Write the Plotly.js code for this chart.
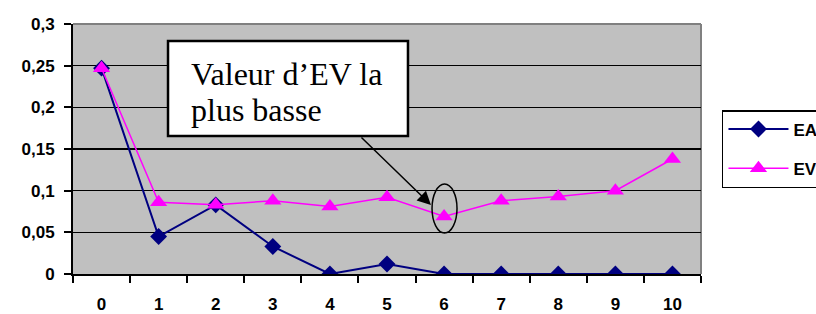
<!DOCTYPE html>
<html>
<head>
<meta charset="utf-8">
<script src="https://cdn.plot.ly/plotly-3.0.1.min.js"></script>
<style>html,body{margin:0;padding:0;background:#fff;}#chart{width:816px;height:314px;}</style>
</head>
<body>
<div id="chart"></div>
<script>
const categories = ['0','1','2','3','4','5','6','7','8','9','10'];
const eaValues = [0.247, 0.045, 0.083, 0.033, 0, 0.012, 0, 0, 0, 0, 0];
const evValues = [0.247, 0.086, 0.083, 0.088, 0.081, 0.092, 0.069, 0.088, 0.093, 0.100, 0.138];
const yTickVals = [0, 0.05, 0.1, 0.15, 0.2, 0.25, 0.3];
const yTickText = ['0', '0,05', '0,1', '0,15', '0,2', '0,25', '0,3'];
const seriesNames = ['EA', 'EV'];
const noteLines = ['Valeur d\u2019EV la', 'plus basse'];

const bold = s => '<b>' + s + '</b>';
const boldFont = {family: 'Liberation Sans', size: 17, color: '#000', weight: 700};
const serifFont = {family: 'Liberation Serif', size: 32, color: '#000', weight: 400};

const traces = [
  {x: categories, y: eaValues, name: bold(seriesNames[0]), type: 'scatter', mode: 'lines+markers',
   legendgroup: 'a',
   line: {color: '#000080', width: 2}, marker: {symbol: 'diamond', size: 13, color: '#000080'}},
  {x: categories, y: evValues, name: bold(seriesNames[1]), type: 'scatter', mode: 'lines+markers',
   legendgroup: 'b',
   line: {color: '#FF00FF', width: 1.5}, marker: {symbol: 'triangle-up', size: 15, color: '#FF00FF'}}
];

const layout = {
  width: 816, height: 314,
  margin: {l: 73, r: 115, t: 24, b: 40, autoexpand: false},
  paper_bgcolor: '#fff', plot_bgcolor: '#C0C0C0',
  showlegend: true,
  legend: {x: 1.0334, y: 0.656, xanchor: 'left', yanchor: 'top', bgcolor: '#fff',
    bordercolor: '#000', borderwidth: 1.5, font: boldFont, tracegroupgap: 14,
    traceorder: 'grouped', itemwidth: 60},
  xaxis: {type: 'category', range: [-0.5, 10.5], tickson: 'boundaries', ticks: 'outside',
    tickmode: 'array', tickvals: categories, ticktext: categories.map(bold),
    ticklen: 7, tickwidth: 2, tickcolor: '#000', showgrid: false, zeroline: false,
    showline: true, linecolor: '#000', linewidth: 2, tickfont: boldFont, ticklabelstandoff: 14,
    fixedrange: true},
  yaxis: {range: [0, 0.3], tickvals: yTickVals, ticktext: yTickText.map(bold), ticks: 'outside',
    ticklen: 7, tickwidth: 2, tickcolor: '#000', showgrid: true, gridcolor: '#000', gridwidth: 1.5,
    zeroline: false, showline: true, linecolor: '#000', linewidth: 2, tickfont: boldFont,
    ticklabelstandoff: 6, fixedrange: true},
  shapes: [
    {type: 'line', xref: 'paper', yref: 'paper', x0: 0, x1: 1, y0: 1, y1: 1, layer: 'between',
     line: {color: '#808080', width: 2}},
    {type: 'line', xref: 'paper', yref: 'paper', x0: 1, x1: 1, y0: 0, y1: 1, layer: 'between',
     line: {color: '#808080', width: 2}},
    {type: 'rect', xref: 'paper', yref: 'paper', x0: 0.1513, x1: 0.5334, y0: 0.552, y1: 0.932,
     layer: 'above', fillcolor: '#fff', line: {color: '#000', width: 2.5}},
    {type: 'circle', xref: 'paper', yref: 'paper', x0: 0.5717, x1: 0.6115, y0: 0.164, y1: 0.36,
     layer: 'above', line: {color: '#000', width: 1.5}}
  ],
  annotations: [
    {xref: 'paper', yref: 'paper', x: 0.1847, y: 0.80, xanchor: 'left', yanchor: 'middle',
     text: noteLines[0], showarrow: false, font: serifFont},
    {xref: 'paper', yref: 'paper', x: 0.1847, y: 0.655, xanchor: 'left', yanchor: 'middle',
     text: noteLines[1], showarrow: false, font: serifFont},
    {xref: 'paper', yref: 'paper', x: 0.570, y: 0.276, text: '', showarrow: true,
     ax: -71, ay: -69, arrowhead: 2, arrowsize: 1.8, arrowwidth: 1.5, arrowcolor: '#000', standoff: 0}
  ]
};

Plotly.newPlot('chart', traces, layout, {displayModeBar: false, staticPlot: true});
</script>
</body>
</html>
